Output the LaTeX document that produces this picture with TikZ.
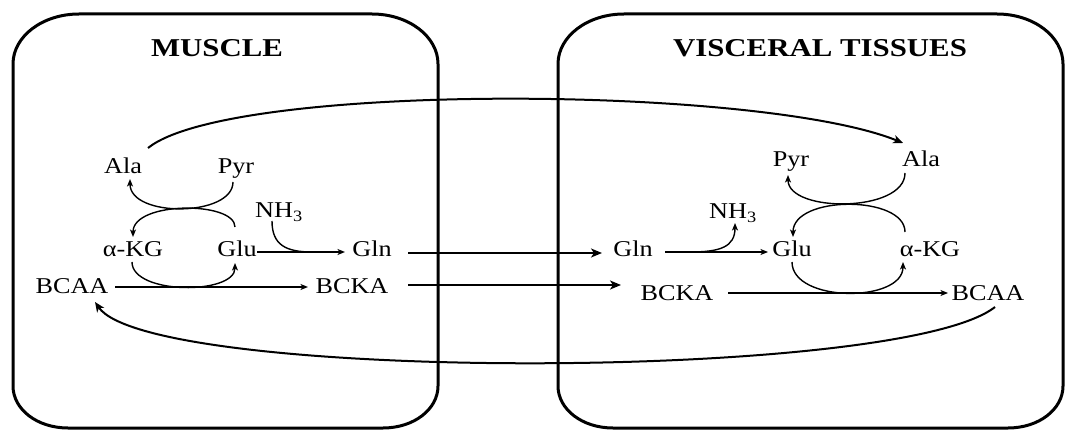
\documentclass[tikz,border=0pt]{standalone}
\usepackage{fontspec}
\usepackage{graphicx}
\setmainfont{Liberation Serif}
\usetikzlibrary{arrows.meta}

% rounded tissue compartment: left, top, right, bottom
\newcommand\tissuebox[4]{%
  \draw[tissue] (#1,{#2+50}) .. controls (#1,{#2+22.4}) and ({#1+29.5},#2) .. ({#1+66},#2)
    -- ({#3-66},#2) .. controls ({#3-29.5},#2) and (#3,{#2+22.4}) .. (#3,{#2+50})
    -- (#3,{#4-42}) .. controls (#3,{#4-18.8}) and ({#3-24},#4) .. ({#3-55},#4)
    -- ({#1+55},#4) .. controls ({#1+24},#4) and (#1,{#4-18.8}) .. (#1,{#4-42})
    -- cycle;}
\newcommand\wt[1]{\scalebox{1.16}[1]{#1}}
\newcommand\ttl[1]{\scalebox{1.2}[1]{#1}}

\tikzset{
  tissue/.style={line width=3pt, black},
  lbl/.style={inner sep=0pt, anchor=base, font=\fontsize{22.6}{26}\selectfont},
  title/.style={inner sep=0pt, anchor=base, font=\fontsize{25.7}{30}\selectfont\bfseries},
  rx/.style={line width=1.4pt, -{Stealth[length=7.5pt,width=6pt,inset=2pt]}},
  rxline/.style={line width=1.4pt},
  transfer/.style={line width=1.9pt, -{Stealth[length=11pt,width=9pt,inset=3pt]}},
  exchange/.style={line width=2pt, -{Stealth[length=10pt,width=8.5pt,inset=3pt]}},
}

\begin{document}
\begin{tikzpicture}[x=1pt, y=-1pt]
\useasboundingbox (0,0) rectangle (1065,430);

% compartments
\tissuebox{13}{14}{438}{428}
\tissuebox{558}{14}{1063}{428}

\node[title] (tM) at (217,57) {\ttl{MUSCLE}};
\node[title] (tV) at (820,57) {\ttl{VISCERAL TISSUES}};

% muscle metabolites
\node[lbl] (mAla)  at (123,174) {\wt{Ala}};
\node[lbl] (mPyr)  at (236,174) {\wt{Pyr}};
\node[lbl] (mNH)   at (279,218) {\wt{NH\textsubscript{3}}};
\node[lbl] (mKG)   at (133,257) {\wt{α-KG}};
\node[lbl] (mGlu)  at (237,257) {\wt{Glu}};
\node[lbl] (mGln)  at (372,257) {\wt{Gln}};
\node[lbl] (mBCAA) at (72,294)  {\wt{BCAA}};
\node[lbl] (mBCKA) at (352,294) {\wt{BCKA}};

% visceral metabolites
\node[lbl] (vPyr)  at (791,167) {\wt{Pyr}};
\node[lbl] (vAla)  at (921,167) {\wt{Ala}};
\node[lbl] (vNH)   at (733,219) {\wt{NH\textsubscript{3}}};
\node[lbl] (vGln)  at (633,257) {\wt{Gln}};
\node[lbl] (vGlu)  at (792,257) {\wt{Glu}};
\node[lbl] (vKG)   at (930,257) {\wt{α-KG}};
\node[lbl] (vBCKA) at (677,301) {\wt{BCKA}};
\node[lbl] (vBCAA) at (988,301) {\wt{BCAA}};

% muscle: transamination cycles
\draw[rx] ([shift={(-3,8)}]mPyr.base) .. controls +(0,35) and +(0,39) .. ([shift={(7,5)}]mAla.base);
\draw[rx] ([shift={(-2,-30)}]mGlu.base) .. controls +(0,-26) and +(0,-36) .. ([shift={(0,-20)}]mKG.base);
\draw[rx] ([shift={(-1,5)}]mKG.base) .. controls +(0,33) and +(0,32) .. ([shift={(-2,6)}]mGlu.base);
\draw[rx] ([shift={(20,-5)}]mGlu.base) -- ([shift={(-27,-5)}]mGln.base);
\coordinate (mJoin) at (312,252);
\draw[rxline] ([shift={(-7,3)}]mNH.base) .. controls +(0,24) and +(-26,0) .. (mJoin);
\draw[rx] ([shift={(43,-7)}]mBCAA.base) -- ([shift={(-44,-7)}]mBCKA.base);

% visceral: transamination cycles
\draw[rx] ([shift={(-16,6)}]vAla.base) .. controls +(0,40) and +(0,38) .. ([shift={(-3,8)}]vPyr.base);
\draw[rx] ([shift={(-25,-25)}]vKG.base) .. controls +(0,-37) and +(0,-42) .. ([shift={(1,-20)}]vGlu.base);
\draw[rx] ([shift={(0,5)}]vGlu.base) .. controls +(0,41) and +(0,41) .. ([shift={(-27,5)}]vKG.base);
\draw[rx] ([shift={(32,-5)}]vGln.base) -- ([shift={(-24,-5)}]vGlu.base);
\coordinate (vJoin) at (690,252);
\draw[rx] (vJoin) .. controls +(30,0) and +(0,24) .. ([shift={(2,4)}]vNH.base);
\draw[rx] ([shift={(51,-8)}]vBCKA.base) -- ([shift={(-40,-8)}]vBCAA.base);

% exchange between tissues
\draw[transfer] ([shift={(36,-4)}]mGln.base) -- ([shift={(-31,-4)}]vGln.base);
\draw[transfer] ([shift={(56,-9)}]mBCKA.base) -- ([shift={(-56,-16)}]vBCKA.base);
\draw[exchange] ([shift={(25,-26)}]mAla.base) .. controls (230,82) and (760,85) .. ([shift={(-18,-24)}]vAla.base);
\draw[exchange] ([shift={(7,6)}]vBCAA.base) .. controls (900,382) and (150,382) .. ([shift={(23,8)}]mBCAA.base);
\end{tikzpicture}
\end{document}
